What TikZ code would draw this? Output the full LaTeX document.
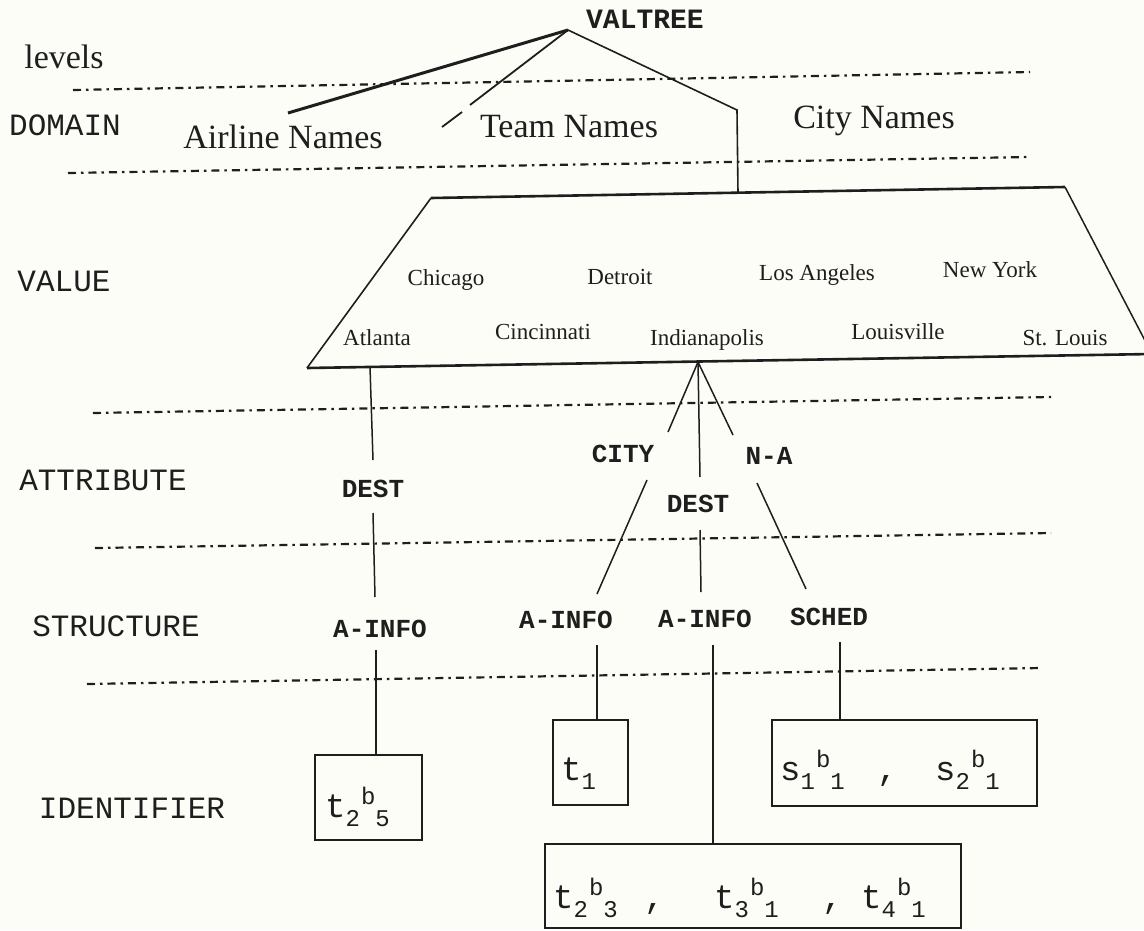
\documentclass[tikz,border=0pt]{standalone}
\usepackage{fontspec}
\setmainfont{Liberation Serif}
\setmonofont{Liberation Mono}
\definecolor{paper}{HTML}{FDFDF7}
\definecolor{ink}{HTML}{1E1E1E}
\newcommand\fDom{\rmfamily\fontsize{34}{40}\selectfont}
\newcommand\fCity{\rmfamily\fontsize{23}{28}\selectfont}
\newcommand\fLvl{\ttfamily\fontsize{31}{36}\selectfont}
\newcommand\fLab{\ttfamily\bfseries\fontsize{26}{30}\selectfont}
\newcommand\fId{\ttfamily\fontsize{34}{38}\selectfont}
\newcommand\fSb{\ttfamily\fontsize{24}{28}\selectfont}
\newcommand\idsub[1]{\raisebox{-9pt}{\fSb #1}}
\newcommand\idsup[1]{\raisebox{13pt}{\fSb #1}}
\newcommand\idtri[3]{#1\idsub{#2}\hspace{1pt}\idsup{b}\idsub{#3}}
\begin{document}
\begin{tikzpicture}[x=1pt,y=-1pt,
  txt/.style={inner sep=0pt, anchor=base, text=ink},
  lvl/.style={txt, font=\fLvl},
  dom/.style={txt, font=\fDom},
  city/.style={txt, font=\fCity},
  lab/.style={txt, font=\fLab},
  idt/.style={inner sep=0pt, anchor=base west, text=ink, font=\fId},
  sep/.style={draw=ink, line width=2.2pt, dash pattern=on 8pt off 5pt on 2.5pt off 5pt},
  edge/.style={draw=ink, line width=1.5pt},
  idbox/.style={draw=ink, line width=2.2pt, inner sep=0pt}
]
\useasboundingbox[fill=paper] (0,0) rectangle (1144,930);
\clip (0,0) rectangle (1144,930);

% separator lines
\coordinate (s1a) at (73,90);   \coordinate (s1b) at (1030,72);
\coordinate (s2a) at (68,173);  \coordinate (s2b) at (1030,157);
\coordinate (s3a) at (93,413);  \coordinate (s3b) at (1051,397);
\coordinate (s4a) at (95,548);  \coordinate (s4b) at (1051,533);
\coordinate (s5a) at (87,684);  \coordinate (s5b) at (1041,668);
\path[sep] (s1a) -- (s1b);
\path[sep] (s2a) -- (s2b);
\path[sep] (s3a) -- (s3b);
\path[sep] (s4a) -- (s4b);
\path[sep] (s5a) -- (s5b);

% level labels
\node[dom] (levels) at (64,68) {levels};
\node[lvl] (ldomain) at (65,135) {DOMAIN};
\node[lvl] (lvalue) at (64,291) {VALUE};
\node[lvl] (lattr) at (103,490) {ATTRIBUTE};
\node[lvl] (lstruct) at (116,636) {STRUCTURE};
\node[lvl] (lident) at (132,818) {IDENTIFIER};

% root and domains
\node[lab, font=\ttfamily\bfseries\fontsize{28}{32}\selectfont] (valtree) at (645,28) {VALTREE};
\coordinate (root) at (568,30);
\node[dom] (airline) at (283,148) {Airline Names};
\node[dom] (team) at (569,137) {Team Names};
\node[dom] (cityn) at (874,128) {City Names};

\coordinate (airE) at (288,113);
\coordinate (teamA) at (470,105);
\coordinate (teamB) at (462,112);
\coordinate (teamC) at (442,127);
\coordinate (cityK) at (737,110);
\coordinate (trapIn) at (738,193);
\draw[ink, line width=3pt] (root) -- (airE);
\draw[ink, line width=1.8pt] (root) -- (teamA);
\draw[ink, line width=1.8pt] (teamB) -- (teamC);
\draw[ink, line width=1.6pt] (root) -- (cityK) -- (trapIn);

% value trapezoid
\coordinate (tl) at (431,198);
\coordinate (tr) at (1065,187);
\coordinate (br) at (1152,354);
\coordinate (bl) at (307,368);
\draw[ink, line width=2.6pt] (tl) -- (tr);
\draw[ink, line width=1.5pt] (tr) -- (br);
\draw[ink, line width=2.6pt] (br) -- (bl);
\draw[ink, line width=1.6pt] (bl) -- (tl);

\node[city] (chicago) at (446,285) {Chicago};
\node[city] (detroit) at (620,284) {Detroit};
\node[city] (losang) at (817,280) {Los Angeles};
\node[city] (newyork) at (990,277) {New York};
\node[city] (atlanta) at (377,345) {Atlanta};
\node[city] (cincy) at (543,339) {Cincinnati};
\node[city] (indy) at (707,345) {Indianapolis};
\node[city] (louis) at (898,339) {Louisville};
\node[city] (stl) at (1065,345) {St. Louis};

% attribute level
\node[lab] (destL) at (373,497) {DEST};
\node[lab] (cityA) at (623,462) {CITY};
\node[lab] (na) at (769,464) {N-A};
\node[lab] (destM) at (698,512) {DEST};

% structure level
\node[lab] (ainfoL) at (380,637) {A-INFO};
\node[lab] (ainfo1) at (566,628) {A-INFO};
\node[lab] (ainfo2) at (705,627) {A-INFO};
\node[lab] (sched) at (829,625) {SCHED};

% identifier boxes
\node[idbox, minimum width=107pt, minimum height=85pt] (boxA) at (368.5,797.5) {};
\node[idbox, minimum width=75pt, minimum height=85pt] (boxT) at (590.5,762.5) {};
\node[idbox, minimum width=265pt, minimum height=86pt] (boxS) at (904.5,763) {};
\node[idbox, minimum width=416pt, minimum height=84pt] (boxB) at (753,886) {};

\node[idt] (idA) at (325,817) {\idtri{t}{2}{5}};
\node[idt] (idT) at (561,780) {t\idsub{1}};
\node[idt] (idS1) at (780,780) {\idtri{s}{1}{1}};
\node[idt] (idSc) at (877,780) {,};
\node[idt] (idS2) at (935,780) {\idtri{s}{2}{1}};
\node[idt] (idB1) at (553,908) {\idtri{t}{2}{3}};
\node[idt] (idBc1) at (644,908) {,};
\node[idt] (idB2) at (714,908) {\idtri{t}{3}{1}};
\node[idt] (idBc2) at (822,908) {,};
\node[idt] (idB3) at (861,908) {\idtri{t}{4}{1}};

% connectors: Atlanta branch
\coordinate (atlOut) at (370,367);
\coordinate (destLt) at (373,460);
\coordinate (destLb) at (373,513);
\coordinate (ainfoLt) at (375,597);
\coordinate (ainfoLb) at (376,650);
\path[edge] (atlOut) -- (destLt);
\path[edge] (destLb) -- (ainfoLt);
\path[edge] (ainfoLb) -- (ainfoLb |- boxA.north);

% connectors: Indianapolis branch
\coordinate (indyOut) at (698,362);
\coordinate (cityAt) at (668,432);
\coordinate (destMt) at (700,477);
\coordinate (nat) at (733,435);
\path[edge] (indyOut) -- (cityAt);
\path[edge] (indyOut) -- (destMt);
\path[edge] (indyOut) -- (nat);

\coordinate (cityAb) at (647,480);
\coordinate (ainfo1t) at (597,594);
\coordinate (destMb) at (700,530);
\coordinate (ainfo2t) at (701,592);
\coordinate (nab) at (757,483);
\coordinate (schedt) at (806,589);
\path[edge] (cityAb) -- (ainfo1t);
\path[edge] (destMb) -- (ainfo2t);
\path[edge] (nab) -- (schedt);

\coordinate (ainfo1b) at (597,645);
\coordinate (ainfo2b) at (713,645);
\coordinate (schedb) at (840,642);
\path[edge] (ainfo1b) -- (ainfo1b |- boxT.north);
\path[edge] (ainfo2b) -- (ainfo2b |- boxB.north);
\path[edge] (schedb) -- (schedb |- boxS.north);
\end{tikzpicture}
\end{document}
